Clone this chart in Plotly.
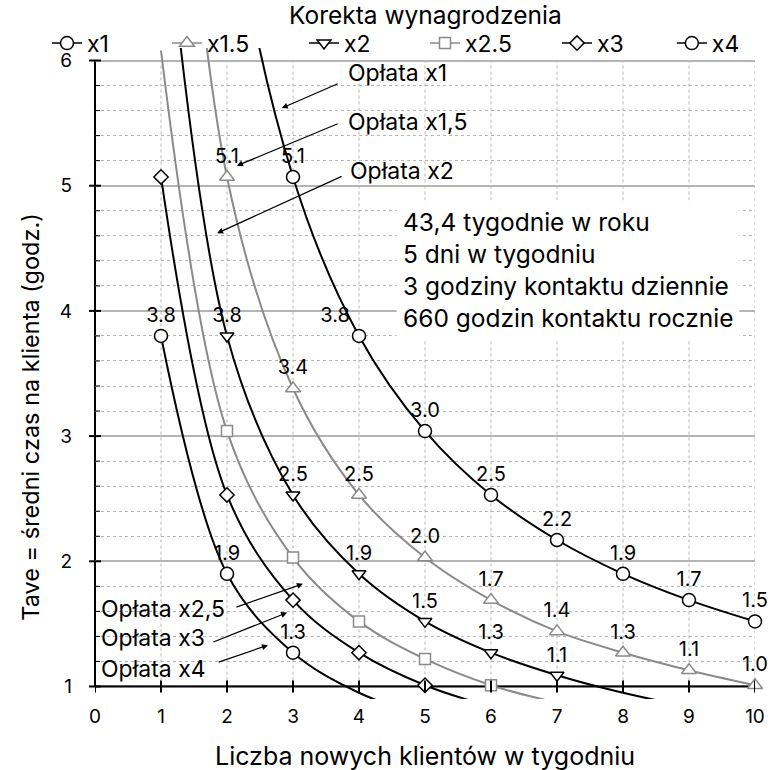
import plotly.graph_objects as go

# ---------------- data ----------------
n_clients = [1, 2, 3, 4, 5, 6, 7, 8, 9, 10]
t_x1 = [15.20, 7.60, 5.07, 3.80, 3.04, 2.53, 2.17, 1.90, 1.69, 1.52]
t_x1_5 = [10.13, 5.07, 3.38, 2.53, 2.03, 1.69, 1.44, 1.27, 1.13, 1.01]
t_x2 = [7.60, 3.80, 2.53, 1.90, 1.52, 1.27, 1.09, 0.95, 0.84, 0.76]
t_x2_5 = [6.08, 3.04, 2.03, 1.52, 1.22, 1.01, 0.87, 0.76, 0.68, 0.61]
t_x3 = [5.07, 2.53, 1.69, 1.27, 1.01, 0.84, 0.72, 0.63, 0.56, 0.51]
t_x4 = [3.80, 1.90, 1.27, 0.95, 0.76, 0.63, 0.54, 0.48, 0.42, 0.38]

series_names = ["x1", "x1.5", "x2", "x2.5", "x3", "x4"]
series_values = [t_x1, t_x1_5, t_x2, t_x2_5, t_x3, t_x4]
series_labelled = [True, True, True, False, False, True]

x_tick_vals = [0, 1, 2, 3, 4, 5, 6, 7, 8, 9, 10]
y_tick_vals = [1, 2, 3, 4, 5, 6]
y_minor_vals = [1.2, 1.4, 1.6, 1.8, 2.2, 2.4, 2.6, 2.8, 3.2, 3.4, 3.6, 3.8,
                4.2, 4.4, 4.6, 4.8, 5.2, 5.4, 5.6, 5.8]

legend_title = "Korekta wynagrodzenia"
info_lines = ["43,4 tygodnie w roku", "5 dni w tygodniu",
              "3 godziny kontaktu dziennie", "660 godzin kontaktu rocznie"]

# ---------------- styles ----------------
FONT = "Inter, Liberation Sans, Arial, sans-serif"
GRAY = "#8a8a8a"
GRID = "#b4b4b4"
line_colors = ["black", GRAY, "black", GRAY, "black", "black"]
symbols = ["circle", "triangle-up", "triangle-down", "square", "diamond", "circle"]
msizes = [13, 13, 12, 11, 11, 13]
legend_x = [-0.0727, 0.109, 0.3167, 0.50, 0.70, 0.874]
Y_MIN, Y_MAX = 1, 6
special_pos = {("x1", 4): "top left"}

fig = go.Figure()

# lines (all points, smoothed, clipped by plot area)
for name, vals, col in zip(series_names, series_values, line_colors):
    fig.add_trace(go.Scatter(
        x=n_clients, y=vals, mode="lines",
        line=dict(color=col, width=2, shape="spline", smoothing=1),
        showlegend=False, hoverinfo="skip"))

# markers + labels (only points inside the axis range)
for name, vals, col, sym, ms, lab in zip(series_names, series_values, line_colors,
                                          symbols, msizes, series_labelled):
    xs, ys, txt, pos = [], [], [], []
    for xv, yv in zip(n_clients, vals):
        if Y_MIN - 0.02 <= yv <= Y_MAX:
            xs.append(xv)
            ys.append(yv)
            txt.append(f"{yv:.1f}" if lab else "")
            pos.append(special_pos.get((name, xv), "top center"))
    fig.add_trace(go.Scatter(
        x=xs, y=ys, mode="markers+text", text=txt, textposition=pos,
        textfont=dict(family=FONT, size=20, color="black"),
        marker=dict(symbol=sym, size=ms, color="white",
                    line=dict(color=col, width=1.5)),
        cliponaxis=False, showlegend=False))

# legend entries, one legend box each
legend_layouts = {}
for i, (name, col, sym, ms) in enumerate(zip(series_names, line_colors, symbols, msizes)):
    lg = "legend" if i == 0 else f"legend{i + 1}"
    fig.add_trace(go.Scatter(
        x=[None], y=[None], mode="lines+markers", name=name, legend=lg,
        line=dict(color=col, width=1.5),
        marker=dict(symbol=sym, size=ms, color="white",
                    line=dict(color=col, width=1.5))))
    legend_layouts[lg] = dict(
        x=legend_x[i], xanchor="left", y=1.0075, yanchor="middle",
        orientation="h", font=dict(family=FONT, size=23, color="black"),
        itemwidth=30, bgcolor="rgba(0,0,0,0)")

# ---------------- shapes: axes, ticks, gridlines ----------------
shapes = []
for xv in x_tick_vals[1:]:
    shapes.append(dict(type="line", xref="x", yref="y", x0=xv, x1=xv,
                       y0=Y_MIN, y1=Y_MAX, layer="below",
                       line=dict(color=GRID, width=1, dash="dot")))
shapes.append(dict(type="line", xref="x", yref="y", x0=x_tick_vals[0],
                   x1=x_tick_vals[-1], y0=Y_MIN, y1=Y_MIN, layer="between",
                   line=dict(color="black", width=2)))
shapes.append(dict(type="line", xref="paper", yref="y", x0=0, x1=0,
                   y0=Y_MIN, y1=Y_MAX, layer="between",
                   line=dict(color="black", width=2)))
for xv in x_tick_vals:
    shapes.append(dict(type="line", xref="x", yref="y", ysizemode="pixel",
                       yanchor=Y_MIN, y0=-6, y1=6, x0=xv, x1=xv, layer="above",
                       line=dict(color="black", width=2)))
for yv in y_tick_vals:
    shapes.append(dict(type="line", xref="paper", yref="y", xsizemode="pixel",
                       xanchor=0, x0=-6, x1=6, y0=yv, y1=yv, layer="above",
                       line=dict(color="black", width=2)))
for yv in y_minor_vals:
    shapes.append(dict(type="line", xref="paper", yref="y", xsizemode="pixel",
                       xanchor=0, x0=0, x1=5, y0=yv, y1=yv, layer="above",
                       line=dict(color="black", width=1)))

# ---------------- annotations ----------------
ann = []
arrows = [  # (text, text_x, text_y, tail_x, tail_y, head_x, head_y)
    ("Opłata x1", 4.59, 5.90, 3.70, 5.82, 2.83, 5.62),
    ("Opłata x1,5", 4.73, 5.51, 3.70, 5.50, 2.15, 5.16),
    ("Opłata x2", 4.65, 5.12, 3.76, 5.08, 1.85, 4.62),
    ("Opłata x2,5", 1.03, 1.62, 2.12, 1.63, 3.15, 1.82),
    ("Opłata x3", 0.88, 1.39, 1.77, 1.35, 2.91, 1.59),
    ("Opłata x4", 0.88, 1.14, 1.85, 1.19, 2.62, 1.33),
]
for t, tx, ty, ax_, ay_, hx, hy in arrows:
    ann.append(dict(x=hx, y=hy, ax=ax_, ay=ay_, xref="x", yref="y",
                    axref="x", ayref="y", text="", showarrow=True,
                    arrowhead=2, arrowsize=1, arrowwidth=1.2,
                    arrowcolor="black", standoff=0, startstandoff=0))
    ann.append(dict(x=tx, y=ty, xref="x", yref="y", text=t, showarrow=False,
                    xanchor="center", yanchor="middle",
                    font=dict(family=FONT, size=23, color="black")))

ann.append(dict(x=4.56, y=4.33, xref="x", yref="y", text="<br>".join(info_lines),
                showarrow=False, xanchor="left", yanchor="middle", align="left",
                bgcolor="white", borderpad=6,
                font=dict(family=FONT, size=24.5, color="black")))

ann.append(dict(x=0.5, y=-0.087, xref="paper", yref="paper",
                text="Liczba nowych klientów w tygodniu", showarrow=False,
                xanchor="center", yanchor="middle",
                font=dict(family=FONT, size=25, color="black")))
ann.append(dict(x=-0.098, y=0.434, xref="paper", yref="paper",
                text="Tave = średni czas na klienta (godz.)", showarrow=False,
                textangle=-90, xanchor="center", yanchor="middle",
                font=dict(family=FONT, size=23.5, color="black")))
ann.append(dict(x=0.5, y=1.051, xref="paper", yref="paper",
                text=legend_title, showarrow=False,
                xanchor="center", yanchor="middle",
                font=dict(family=FONT, size=24.5, color="black")))

fig.update_layout(
    width=771, height=770,
    margin=dict(l=95, r=16, t=47.5, b=70.5, autoexpand=False),
    paper_bgcolor="white", plot_bgcolor="white",
    font=dict(family=FONT, color="black"),
    shapes=shapes, annotations=ann,
    xaxis=dict(range=[0, 10], tickvals=x_tick_vals, showgrid=False,
               showline=False, zeroline=False, ticks="",
               tickfont=dict(family=FONT, size=19), ticklabelstandoff=4),
    yaxis=dict(range=[0.9, 6.1], tickvals=y_tick_vals, showgrid=True,
               gridcolor=GRID, gridwidth=2, showline=False, zeroline=False,
               ticks="", tickfont=dict(family=FONT, size=19),
               ticklabelstandoff=22,
               minor=dict(tickvals=y_minor_vals, showgrid=True, gridcolor=GRID,
                          griddash="dot", gridwidth=1)),
    **legend_layouts,
)

fig.write_html("out.html")
